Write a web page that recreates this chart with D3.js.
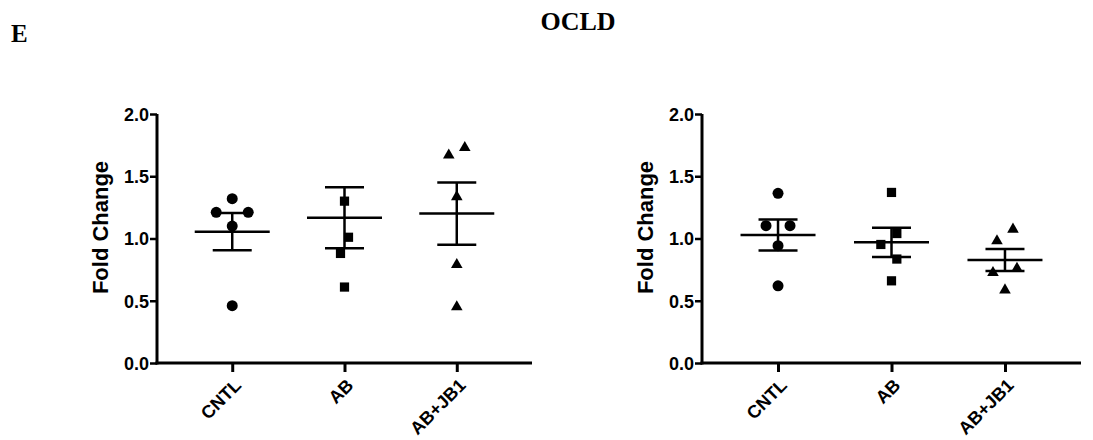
<!DOCTYPE html>
<html>
<head>
<meta charset="utf-8">
<script src="https://cdn.jsdelivr.net/npm/d3@7"></script>
<style>
  body { margin: 0; background: #fff; }
  svg text { fill: #000; }
</style>
</head>
<body>
<svg id="chart" width="1093" height="440"></svg>
<script>
// values
const categories = ['CNTL', 'AB', 'AB+JB1']
const yTicks = [0, 0.5, 1.0, 1.5, 2.0]

const leftValues = [
  [1.32, 1.21, 1.21, 1.10, 0.46],
  [1.30, 1.01, 0.88, 0.61],
  [1.73, 1.67, 1.335, 0.79, 0.45]
]
const leftMeans = [1.055, 1.167, 1.20]
const leftSems = [0.15, 0.245, 0.25]

const rightValues = [
  [1.363, 1.103, 1.103, 0.942, 0.62],
  [1.37, 1.04, 0.952, 0.835, 0.66],
  [1.074, 0.98, 0.76, 0.725, 0.586]
]
const rightMeans = [1.028, 0.969, 0.827]
const rightSems = [0.125, 0.117, 0.088]

const symbols = [d3.symbolCircle, d3.symbolSquare, d3.symbolTriangle]
const symbolSizes = [95, 85, 58]

const svg = d3.select('#chart')
const fontSans = "'Liberation Sans', Arial, sans-serif"
const fontSerif = "'Liberation Serif', 'Times New Roman', serif"

svg.append('text')
  .attr('x', 11).attr('y', 42)
  .style('font-family', fontSerif).style('font-weight', 'bold').style('font-size', '25px')
  .text('E')

svg.append('text')
  .attr('x', 578).attr('y', 30)
  .attr('text-anchor', 'middle')
  .style('font-family', fontSerif).style('font-weight', 'bold').style('font-size', '26px')
  .text('OCLD')

// spread points that would overlap, like a column scatter
function dodge(vals, y) {
  const order = vals.map((v, i) => i).sort((a, b) => vals[b] - vals[a])
  const dx = vals.map(() => 0)
  const placed = []
  const cands = [0, -8, 8, -16, 16, -24, 24]
  order.forEach(i => {
    const py = y(vals[i])
    for (const c of cands) {
      if (placed.every(j => Math.hypot(dx[j] - c, y(vals[j]) - py) >= 17)) { dx[i] = c; break }
    }
    placed.push(i)
  })
  // recenter each cluster of close values
  const comp = vals.map((v, i) => i)
  const find = i => comp[i] === i ? i : (comp[i] = find(comp[i]))
  for (let i = 0; i < vals.length; i++)
    for (let j = i + 1; j < vals.length; j++)
      if (Math.abs(y(vals[i]) - y(vals[j])) < 17) comp[find(i)] = find(j)
  const groups = d3.group(vals.map((v, i) => i), i => find(i))
  groups.forEach(idx => {
    const m = d3.mean(idx, i => dx[i])
    idx.forEach(i => { dx[i] -= m })
  })
  return dx
}

function drawPanel(x0, x1, values, means, sems) {
  const yScale = d3.scaleLinear().domain([0, 2]).range([363, 114])
  const xScale = d3.scalePoint().domain(categories).range([x0, x1]).padding(0.67)

  const g = svg.append('g')

  // y axis
  const yAxis = d3.axisLeft(yScale).tickValues(yTicks).tickFormat(d3.format('.1f')).tickSize(7).tickSizeOuter(0)
  const ya = g.append('g').attr('transform', `translate(${x0},0)`).call(yAxis)
  ya.select('.domain').attr('stroke-width', 3).attr('d', `M0,${yScale(2)}V${yScale(0) + 1.5}`)
  ya.selectAll('.tick line').attr('stroke-width', 2.5)
  ya.selectAll('.tick text')
    .attr('x', -8).attr('dy', '0.36em')
    .style('font-family', fontSans).style('font-weight', 'bold').style('font-size', '18px')

  // x axis
  const xAxis = d3.axisBottom(xScale).tickSize(9).tickSizeOuter(0)
  const xa = g.append('g').attr('transform', `translate(0,${yScale(0)})`).call(xAxis)
  xa.select('.domain').attr('stroke-width', 3).attr('d', `M${x0 - 1.5},0H${x1}`)
  xa.selectAll('.tick line').attr('stroke-width', 3)
  xa.selectAll('.tick text')
    .attr('x', 0).attr('y', 0).attr('dy', '0.35em')
    .attr('text-anchor', 'end')
    .attr('transform', 'translate(5,19) rotate(-45)')
    .style('font-family', fontSans).style('font-weight', 'bold').style('font-size', '18px')

  // y label
  g.append('text')
    .attr('transform', `translate(${x0 - 49},${(yScale(0) + yScale(2)) / 2 - 11}) rotate(-90)`)
    .attr('text-anchor', 'middle')
    .style('font-family', fontSans).style('font-weight', 'bold').style('font-size', '22px')
    .text('Fold Change')

  categories.forEach((cat, ci) => {
    const cx = xScale(cat)
    const vals = values[ci]
    const dx = dodge(vals, yScale)

    g.append('g').selectAll('path')
      .data(vals)
      .join('path')
      .attr('d', d3.symbol().type(symbols[ci]).size(symbolSizes[ci]))
      .attr('transform', (d, i) => `translate(${cx + dx[i]},${yScale(d)})`)
      .attr('fill', '#000')

    const m = means[ci], s = sems[ci]
    const lines = [
      [cx - 37.5, yScale(m), cx + 37.5, yScale(m)],
      [cx - 19.5, yScale(m + s), cx + 19.5, yScale(m + s)],
      [cx - 19.5, yScale(m - s), cx + 19.5, yScale(m - s)],
      [cx, yScale(m + s), cx, yScale(m - s)]
    ]
    g.append('g').selectAll('line')
      .data(lines)
      .join('line')
      .attr('x1', d => d[0]).attr('y1', d => d[1])
      .attr('x2', d => d[2]).attr('y2', d => d[3])
      .attr('stroke', '#000').attr('stroke-width', 2.5)
  })
}

drawPanel(157, 532, leftValues, leftMeans, leftSems)
drawPanel(702, 1081, rightValues, rightMeans, rightSems)
</script>
</body>
</html>
